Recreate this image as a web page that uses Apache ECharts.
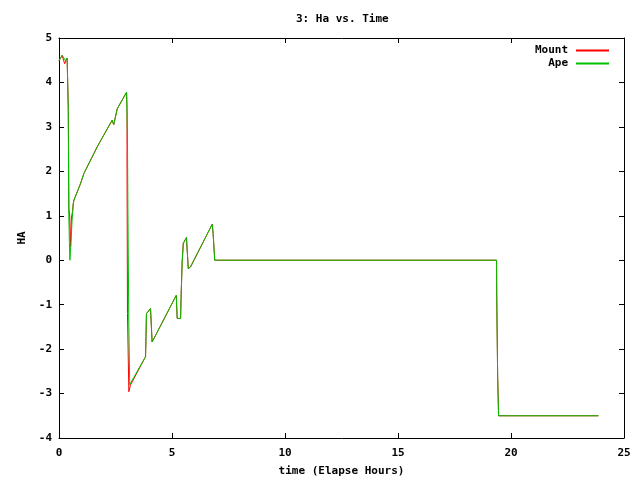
<!DOCTYPE html>
<html>
<head>
<meta charset="utf-8">
<script src="https://cdn.jsdelivr.net/npm/echarts@6/dist/echarts.min.js"></script>
<style>html,body{margin:0;padding:0;background:#fff}#c{width:640px;height:480px}</style>
</head>
<body>
<div id="c"></div>
<script>
var titleText = "3: Ha vs. Time";
var xName = "time (Elapse Hours)";
var yName = "HA";
var seriesNames = ["Mount", "Ape"];

var mountTime = [0.00, 0.14, 0.22, 0.25, 0.29, 0.36, 0.40, 0.41, 0.44, 0.47, 0.51, 0.55, 0.60, 0.63, 0.66, 0.95, 1.10, 1.69, 2.35, 2.42, 2.58, 2.99, 3.01, 3.01, 3.03, 3.09, 3.16, 3.83, 3.85, 3.87, 4.05, 4.12, 4.17, 5.19, 5.23, 5.30, 5.38, 5.40, 5.45, 5.50, 5.64, 5.72, 5.76, 5.82, 6.78, 6.82, 6.89, 19.36, 19.37, 19.41, 19.45, 23.87];
var mountHa   = [4.49, 4.61, 4.58, 4.42, 4.45, 4.55, 4.56, 3.42, 1.13, 1.05, 0.30, 0.95, 1.10, 1.27, 1.35, 1.72, 1.95, 2.55, 3.15, 3.05, 3.41, 3.78, 3.44, 2.13, -1.20, -2.96, -2.81, -2.17, -1.72, -1.20, -1.09, -1.84, -1.85, -0.79, -1.31, -1.35, -1.31, -0.86, -0.04, 0.38, 0.51, -0.19, -0.20, -0.15, 0.81, 0.60, 0.00, 0.00, -0.86, -2.62, -3.50, -3.50];

var apeTime = [0.00, 0.14, 0.21, 0.29, 0.36, 0.40, 0.41, 0.43, 0.46, 0.48, 0.52, 0.58, 0.63, 0.66, 0.95, 1.10, 1.69, 2.35, 2.42, 2.58, 2.99, 3.03, 3.05, 3.09, 3.13, 3.16, 3.83, 3.85, 3.87, 4.05, 4.12, 4.17, 5.19, 5.23, 5.30, 5.38, 5.40, 5.45, 5.50, 5.64, 5.72, 5.76, 5.82, 6.78, 6.82, 6.89, 19.36, 19.37, 19.41, 19.45, 23.87];
var apeHa   = [4.49, 4.61, 4.57, 4.49, 4.55, 4.56, 3.42, 1.12, 0.40, 0.00, 0.30, 0.90, 1.27, 1.35, 1.72, 1.95, 2.55, 3.15, 3.05, 3.41, 3.78, 2.74, 1.09, -1.50, -2.80, -2.81, -2.17, -1.72, -1.20, -1.09, -1.84, -1.85, -0.79, -1.31, -1.35, -1.31, -0.86, -0.04, 0.38, 0.51, -0.19, -0.20, -0.15, 0.81, 0.60, 0.00, 0.00, -0.86, -2.62, -3.50, -3.50];

var xTicks = [0, 5, 10, 15, 20, 25];
var yTicks = [-4, -3, -2, -1, 0, 1, 2, 3, 4, 5];

function pairs(t, v) { return t.map(function (x, i) { return [x, v[i]]; }); }

var FONT = '"DejaVu Sans Mono", monospace';
var chart = echarts.init(document.getElementById('c'), null, { renderer: 'canvas' });
var tickStyle = { show: true, inside: true, length: 5, lineStyle: { color: '#000', width: 1 } };
var lineStyle = { show: true, onZero: false, lineStyle: { color: '#000', width: 1 } };
var labelStyle = { color: '#000', fontFamily: FONT, fontWeight: 'bold', fontSize: 11 };

chart.setOption({
  animation: false,
  backgroundColor: '#fff',
  title: {
    text: titleText, left: 291, top: 9,
    textStyle: { color: '#000', fontFamily: FONT, fontWeight: 'bold', fontSize: 11 }
  },
  legend: {
    data: [
      { name: seriesNames[0], itemStyle: { color: '#ff0000', borderWidth: 0 } },
      { name: seriesNames[1], itemStyle: { color: '#00c000', borderWidth: 0 } }
    ],
    orient: 'vertical', right: 26, top: 39, align: 'right',
    itemGap: 0, itemWidth: 33, itemHeight: 2,
    icon: 'rect',
    textStyle: { color: '#000', fontFamily: FONT, fontWeight: 'bold', fontSize: 11, lineHeight: 13, padding: [0, 3, 0, 0] }
  },
  grid: { left: 59, right: 16, top: 38, bottom: 42, containLabel: false, outerBoundsMode: 'none' },
  xAxis: [{
    type: 'value', min: xTicks[0], max: xTicks[xTicks.length - 1], interval: 5, position: 'bottom',
    name: xName, nameLocation: 'middle', nameGap: 28,
    nameTextStyle: { color: '#000', fontFamily: FONT, fontWeight: 'bold', fontSize: 11 },
    axisLine: lineStyle, axisTick: tickStyle, splitLine: { show: false },
    axisLabel: Object.assign({ margin: 10 }, labelStyle)
  }, {
    type: 'value', min: xTicks[0], max: xTicks[xTicks.length - 1], interval: 5, position: 'top',
    axisLine: lineStyle, axisTick: tickStyle, splitLine: { show: false }, axisLabel: { show: false }
  }],
  yAxis: [{
    type: 'value', min: yTicks[0], max: yTicks[yTicks.length - 1], interval: 1, position: 'left',
    name: yName, nameLocation: 'middle', nameGap: 26, nameRotate: 90,
    nameTextStyle: { color: '#000', fontFamily: FONT, fontWeight: 'bold', fontSize: 11 },
    axisLine: lineStyle, axisTick: tickStyle, splitLine: { show: false },
    axisLabel: Object.assign({ margin: 7 }, labelStyle)
  }, {
    type: 'value', min: yTicks[0], max: yTicks[yTicks.length - 1], interval: 1, position: 'right',
    axisLine: lineStyle, axisTick: tickStyle, splitLine: { show: false }, axisLabel: { show: false }
  }],
  series: [{
    name: seriesNames[0], type: 'line', data: pairs(mountTime, mountHa),
    showSymbol: false, symbol: 'none', color: '#ff0000',
    itemStyle: { color: '#ff0000' },
    lineStyle: { color: '#ff0000', width: 1 }, z: 2
  }, {
    name: seriesNames[1], type: 'line', data: pairs(apeTime, apeHa),
    showSymbol: false, symbol: 'none', color: '#00c000',
    itemStyle: { color: '#00c000' },
    lineStyle: { color: '#00c000', width: 1 }, z: 3
  }]
});
</script>
</body>
</html>
